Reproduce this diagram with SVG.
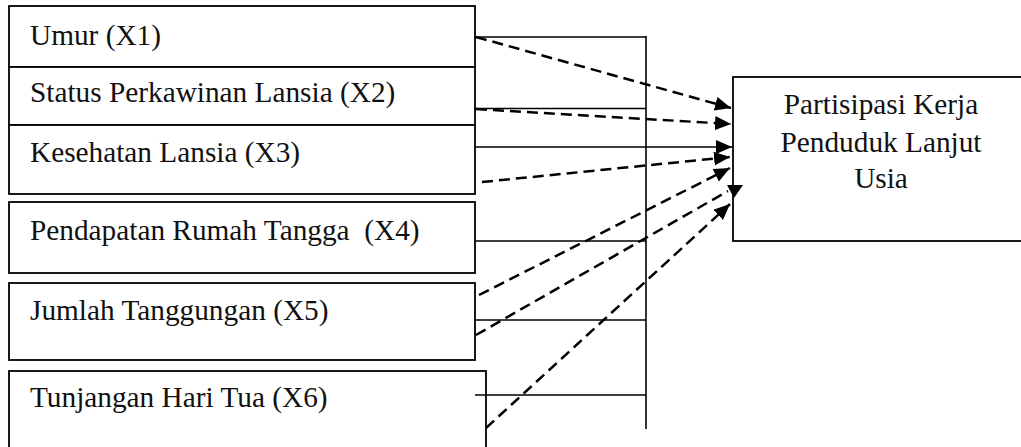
<svg xmlns="http://www.w3.org/2000/svg" width="1021" height="447" viewBox="0 0 1021 447">
  <style>
    .box { fill: #fff; stroke: #000; stroke-width: 1.8; }
    .lbl { font-family: "Liberation Serif", "Times New Roman", serif; font-size: 29.3px; fill: #111; }
    .mid { text-anchor: middle; }
    .solid { stroke: #000; stroke-width: 1.6; fill: none; }
    .dash { stroke: #000; stroke-width: 2.5; fill: none; stroke-dasharray: 11 6; }
  </style>
  <defs>
    <marker id="head" markerUnits="userSpaceOnUse" markerWidth="17" markerHeight="15" refX="16" refY="7" orient="auto">
      <path d="M0,0 L16,7 L0,14 z" fill="#000"/>
    </marker>
  </defs>

  <rect width="1021" height="447" fill="#fff"/>

  <!-- independent variables -->
  <g id="x1"><rect class="box" x="9" y="6" width="466" height="61"/><text class="lbl" x="30" y="45">Umur (X1)</text></g>
  <g id="x2"><rect class="box" x="9" y="67" width="466" height="58"/><text class="lbl" x="30" y="102">Status Perkawinan Lansia (X2)</text></g>
  <g id="x3"><rect class="box" x="9" y="125" width="466" height="69"/><text class="lbl" x="30" y="162">Kesehatan Lansia (X3)</text></g>
  <g id="x4"><rect class="box" x="9" y="202" width="466" height="71"/><text class="lbl" x="30" y="240" xml:space="preserve">Pendapatan Rumah Tangga  (X4)</text></g>
  <g id="x5"><rect class="box" x="9" y="283" width="466" height="77"/><text class="lbl" x="30" y="320">Jumlah Tanggungan (X5)</text></g>
  <g id="x6"><rect class="box" x="9" y="371" width="477" height="90"/><text class="lbl" x="30" y="407">Tunjangan Hari Tua (X6)</text></g>

  <!-- dependent variable -->
  <g id="y">
    <rect class="box" x="733" y="77" width="300" height="164"/>
    <text class="lbl mid" x="881" y="114">Partisipasi Kerja</text>
    <text class="lbl mid" x="881" y="152">Penduduk Lanjut</text>
    <text class="lbl mid" x="881" y="188">Usia</text>
  </g>

  <!-- connectors -->
  <g id="connectors">
    <!-- joint path: comb of horizontals on a vertical bar -->
    <line class="solid" x1="646" y1="36" x2="646" y2="429"/>
    <line class="solid" x1="475" y1="37" x2="646" y2="37"/>
    <line class="solid" x1="475" y1="108.5" x2="646" y2="108.5"/>
    <line class="solid" x1="475" y1="241" x2="646" y2="241"/>
    <line class="solid" x1="475" y1="320" x2="646" y2="320"/>
    <line class="solid" x1="475" y1="395" x2="646" y2="395"/>
    <line class="solid" x1="475" y1="147" x2="732" y2="147" marker-end="url(#head)"/>

    <!-- partial effects -->
    <line class="dash" x1="476" y1="37" x2="731" y2="108" marker-end="url(#head)"/>
    <line class="dash" x1="476" y1="109" x2="731" y2="124" marker-end="url(#head)"/>
    <line class="dash" x1="482" y1="182" x2="730" y2="157" marker-end="url(#head)"/>
    <line class="dash" x1="479" y1="295" x2="730" y2="168" marker-end="url(#head)"/>
    <line class="dash" x1="476" y1="335" x2="728" y2="191"/>
    <path d="M727,185 L743,185 L734,198 z" fill="#000"/>
    <line class="dash" x1="486" y1="428" x2="730" y2="204" marker-end="url(#head)"/>
  </g>
</svg>
